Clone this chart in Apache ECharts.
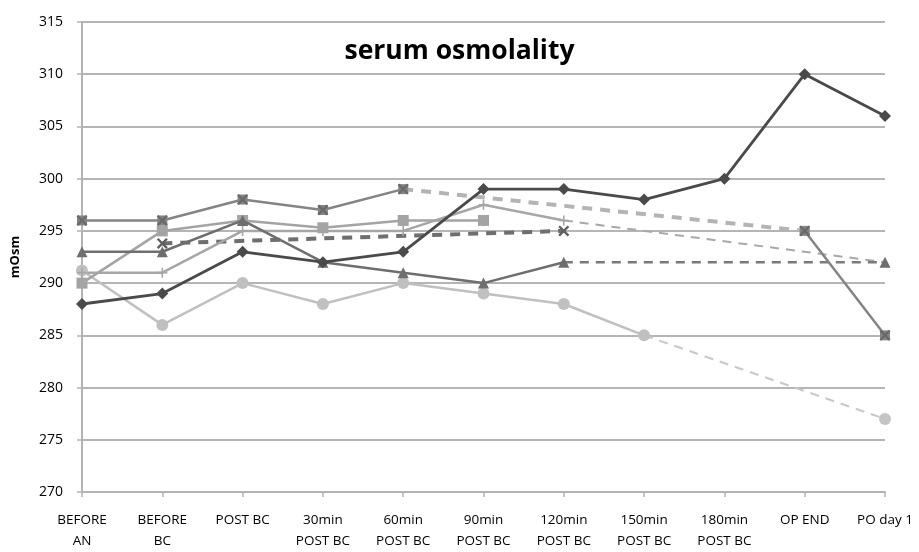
<!DOCTYPE html>
<html><head><meta charset="utf-8">
<script src="https://cdn.jsdelivr.net/npm/echarts@6/dist/echarts.min.js"></script>
<style>html,body{margin:0;padding:0;background:#fff}#c{width:919px;height:552px}</style>
</head><body><div id="c"></div>
<script>
var categories = ['BEFORE\nAN','BEFORE\nBC','POST BC','30min\nPOST BC','60min\nPOST BC','90min\nPOST BC','120min\nPOST BC','150min\nPOST BC','180min\nPOST BC','OP END','PO day 1'];
var yTicks = {min: 270, max: 315, step: 5};
var titleText = 'serum osmolality';
var yName = 'mOsm';

// solid segments
var diamondVals  = [288, 289, 293, 292, 293, 299, 299, 298, 300, 310, 306];
var squareVals   = [290, 295, 296, 295.3, 296, 296, null, null, null, null, null];
var triangleVals = [293, 293, 296, 292, 291, 290, 292, null, null, null, null];
var starVals     = [296, 296, 298, 297, 299, null, null, null, null, null, null];
var starEndVals  = [null, null, null, null, null, null, null, null, null, 295, 285];
var circleVals   = [291.2, 286, 290, 288, 290, 289, 288, 285, null, null, null];
var plusVals     = [291, 291, 295, 295, 295, 297.5, 296, null, null, null, null];
// isolated marker points
var triangleEndVals = [null, null, null, null, null, null, null, null, null, null, 292];
var xPointVals      = [null, 293.8, null, null, null, null, 295, null, null, null, null];
var circleEndVals   = [null, null, null, null, null, null, null, null, null, null, 277];
// dashed segments
var xDashVals        = [null, 293.8, null, null, null, null, 295, null, null, null, null];
var starDashVals     = [null, null, null, null, 299, null, null, null, null, 295, null];
var triangleDashVals = [null, null, null, null, null, null, 292, null, null, null, 292];
var circleDashVals   = [null, null, null, null, null, null, null, 285, null, null, 277];
var plusDashVals     = [null, null, null, null, null, null, 296, null, null, null, 292];

var xSym = 'path://M0,1.5L1.5,0L10,8.5L8.5,10Z M8.5,0L10,1.5L1.5,10L0,8.5Z';
var plusSym = 'path://M4.2,0L5.8,0L5.8,4.2L10,4.2L10,5.8L5.8,5.8L5.8,10L4.2,10L4.2,5.8L0,5.8L0,4.2L4.2,4.2Z';

function solid(name, data, color, symbol, size, width, z) {
  return {name: name, type: 'line', data: data, symbol: symbol, symbolSize: size,
    showAllSymbol: true, connectNulls: false, z: z, animation: false,
    lineStyle: {color: color, width: width}, itemStyle: {color: color}};
}
function dashed(name, data, color, width, dash, z) {
  return {name: name, type: 'line', data: data, symbol: 'none', connectNulls: true, z: z, animation: false,
    lineStyle: {color: color, width: width, type: dash}, itemStyle: {color: color}};
}
function points(name, data, color, symbol, size, z) {
  return {name: name, type: 'line', data: data, symbol: symbol, symbolSize: size, showAllSymbol: true,
    z: z, animation: false, itemStyle: {color: color}, lineStyle: {width: 0}};
}

var chart = echarts.init(document.getElementById('c'));
chart.setOption({
  animation: false,
  backgroundColor: '#fff',
  title: {text: titleText, left: 'center', top: 33,
    textStyle: {fontFamily: 'Open Sans', fontWeight: 'bold', fontSize: 26.5, color: '#000'}},
  grid: {left: 82, right: 34, top: 22, bottom: 60, containLabel: false},
  xAxis: {type: 'category', data: categories, boundaryGap: false,
    axisLine: {lineStyle: {color: '#b3b3b3', width: 2}},
    axisTick: {show: true, length: 5, lineStyle: {color: '#b3b3b3', width: 1.5}},
    axisLabel: {interval: 0, fontFamily: 'Open Sans', fontSize: 13.5, color: '#000', lineHeight: 21, margin: 18},
    splitLine: {show: false}},
  yAxis: {type: 'value', min: yTicks.min, max: yTicks.max, interval: yTicks.step,
    name: yName, nameLocation: 'middle', nameRotate: 90, nameGap: 60,
    nameTextStyle: {fontFamily: 'Open Sans', fontWeight: 'bold', fontSize: 13, color: '#000'},
    axisLine: {show: true, lineStyle: {color: '#b3b3b3', width: 2}},
    axisTick: {show: true, length: 5, lineStyle: {color: '#b3b3b3', width: 1.5}},
    axisLabel: {fontFamily: 'Open Sans', fontSize: 14, color: '#000', margin: 19},
    splitLine: {show: true, lineStyle: {color: '#b5b5b5', width: 2}}},
  series: [
    dashed('circle dashed', circleDashVals, '#c8c8c8', 2, [9, 7], 2),
    dashed('plus dashed', plusDashVals, '#a8a8a8', 2, [9, 7], 2),
    dashed('triangle dashed', triangleDashVals, '#7a7a7a', 2.5, [9, 7], 2),
    dashed('star dashed', starDashVals, '#b4b4b4', 4, [10, 8], 2),
    dashed('x dashed', xDashVals, '#6e6e6e', 4, [10, 8], 2),
    solid('circle', circleVals, '#c0c0c0', 'circle', 12, 2.5, 3),
    solid('plus', plusVals, '#a6a6a6', plusSym, 10, 2.5, 3),
    solid('square', squareVals, '#a4a4a4', 'rect', 11, 2.5, 4),
    solid('star', starVals, '#848484', 'rect', 10, 2.5, 4),
    solid('star end', starEndVals, '#848484', 'rect', 10, 2.5, 4),
    points('star x', starVals, '#6a6a6a', xSym, 11, 4.5),
    points('star end x', starEndVals, '#6a6a6a', xSym, 11, 4.5),
    solid('triangle', triangleVals, '#6e6e6e', 'triangle', 11, 2.5, 5),
    points('triangle end', triangleEndVals, '#6e6e6e', 'triangle', 11, 5),
    points('x', xPointVals, '#5e5e5e', xSym, 11, 5),
    points('circle end', circleEndVals, '#c4c4c4', 'circle', 12, 3),
    solid('diamond', diamondVals, '#4a4a4a', 'diamond', 12, 2.8, 6)
  ]
});
</script></body></html>
